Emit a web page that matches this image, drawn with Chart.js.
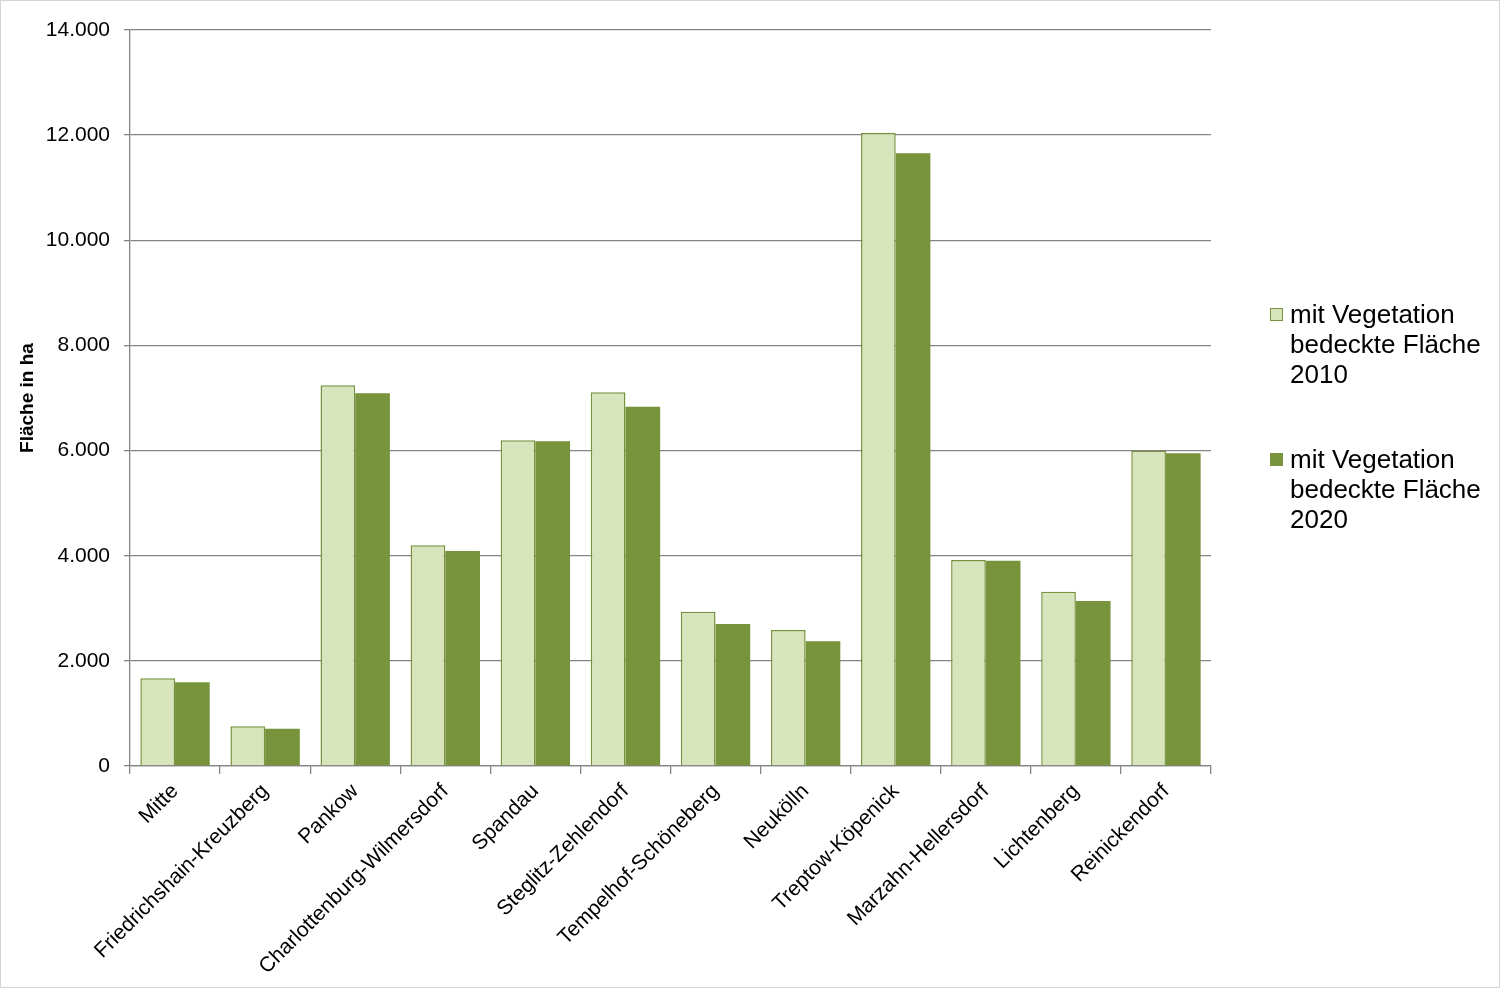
<!DOCTYPE html>
<html lang="de">
<head>
<meta charset="utf-8">
<title>Vegetationsfläche Berlin</title>
<script src="https://cdn.jsdelivr.net/npm/chart.js@4"></script>
<style>
    html, body { margin: 0; padding: 0; background: #fff; }
    #wrap { position: relative; width: 1500px; height: 988px; }
    #frame { position: absolute; left: 0; top: 0; width: 1500px; height: 988px; box-sizing: border-box; border: 1px solid #d4d4d4; pointer-events: none; }
    .legend-item { position: absolute; left: 1270px; font-family: "Liberation Sans", Arial, sans-serif; font-size: 26px; line-height: 30px; color: #000; }
    .legend-item .box { position: absolute; left: 0; width: 11px; height: 11px; }
    .legend-item .txt { position: absolute; left: 20px; white-space: nowrap; }
</style>
</head>
<body>
<div id="wrap">
    <canvas id="vegChart" width="1500" height="988"></canvas>
    <div id="legend"></div>
    <div id="frame"></div>
</div>
<script>
// Bezirke (x axis categories)
const districts = [
    'Mitte', 'Friedrichshain-Kreuzberg', 'Pankow', 'Charlottenburg-Wilmersdorf',
    'Spandau', 'Steglitz-Zehlendorf', 'Tempelhof-Schöneberg', 'Neukölln',
    'Treptow-Köpenick', 'Marzahn-Hellersdorf', 'Lichtenberg', 'Reinickendorf'
];

// mit Vegetation bedeckte Fläche in ha
const area2010 = [1668, 755, 7242, 4198, 6196, 7108, 2935, 2587, 12047, 3919, 3316, 5998];
const area2020 = [1592, 710, 7089, 4090, 6177, 6835, 2701, 2372, 11655, 3905, 3139, 5948];

const seriesLabels = [
    ['mit Vegetation', 'bedeckte Fläche', '2010'],
    ['mit Vegetation', 'bedeckte Fläche', '2020']
];

const yMax = 14000;
const yStep = 2000;

const LIGHT = '#D8E4BC';
const DARK = '#77933C';
const GRID = '#858585';
const FONT = '"Liberation Sans", Arial, sans-serif';

// 14000 -> "14.000"
const fmtDE = (v) => String(v).replace(/\B(?=(\d{3})+(?!\d))/g, '.');

const ctx = document.getElementById('vegChart').getContext('2d');
const chart = new Chart(ctx, {
    type: 'bar',
    data: {
        labels: districts,
        datasets: [{
            label: seriesLabels[0].join(' '),
            data: area2010,
            backgroundColor: LIGHT,
            borderColor: DARK,
            borderWidth: 1.5,
            categoryPercentage: 0.77,
            barPercentage: 1.0
        }, {
            label: seriesLabels[1].join(' '),
            data: area2020,
            backgroundColor: DARK,
            borderColor: DARK,
            borderWidth: 0,
            categoryPercentage: 0.77,
            barPercentage: 1.0
        }]
    },
    options: {
        responsive: false,
        animation: false,
        layout: {
            padding: { left: 0, top: 30, right: 289, bottom: 0 }
        },
        scales: {
            x: {
                grid: {
                    display: true,
                    offset: true,
                    drawOnChartArea: false,
                    drawTicks: true,
                    tickLength: 8,
                    color: GRID,
                    lineWidth: 1.3
                },
                border: { color: GRID, width: 1.3 },
                ticks: {
                    autoSkip: false,
                    minRotation: 45,
                    maxRotation: 45,
                    padding: 5,
                    color: '#000',
                    font: { family: FONT, size: 21 }
                },
                afterFit: (scale) => { scale.height = 222; }
            },
            y: {
                min: 0,
                max: yMax,
                grid: {
                    color: GRID,
                    lineWidth: 1.3,
                    drawTicks: true,
                    tickLength: 6
                },
                border: { color: GRID, width: 1.3 },
                ticks: {
                    stepSize: yStep,
                    padding: 14,
                    color: '#000',
                    font: { family: FONT, size: 21 },
                    callback: (v) => fmtDE(v)
                },
                title: {
                    display: true,
                    text: 'Fläche in ha',
                    color: '#000',
                    padding: { top: 16, bottom: 0 },
                    font: { family: FONT, size: 19, weight: 'bold' }
                },
                afterFit: (scale) => { scale.width = 130; }
            }
        },
        plugins: {
            legend: { display: false },
            tooltip: { enabled: false }
        }
    }
});

// HTML legend on the right
const legendTops = [299, 444];
const legendEl = document.getElementById('legend');
chart.data.datasets.forEach((ds, i) => {
    const item = document.createElement('div');
    item.className = 'legend-item';
    item.style.top = legendTops[i] + 'px';
    const box = document.createElement('div');
    box.className = 'box';
    box.style.top = '9px';
    box.style.background = ds.backgroundColor;
    box.style.border = '1px solid ' + DARK;
    const txt = document.createElement('div');
    txt.className = 'txt';
    txt.innerHTML = seriesLabels[i].join('<br>');
    item.appendChild(box);
    item.appendChild(txt);
    legendEl.appendChild(item);
});
</script>
</body>
</html>
